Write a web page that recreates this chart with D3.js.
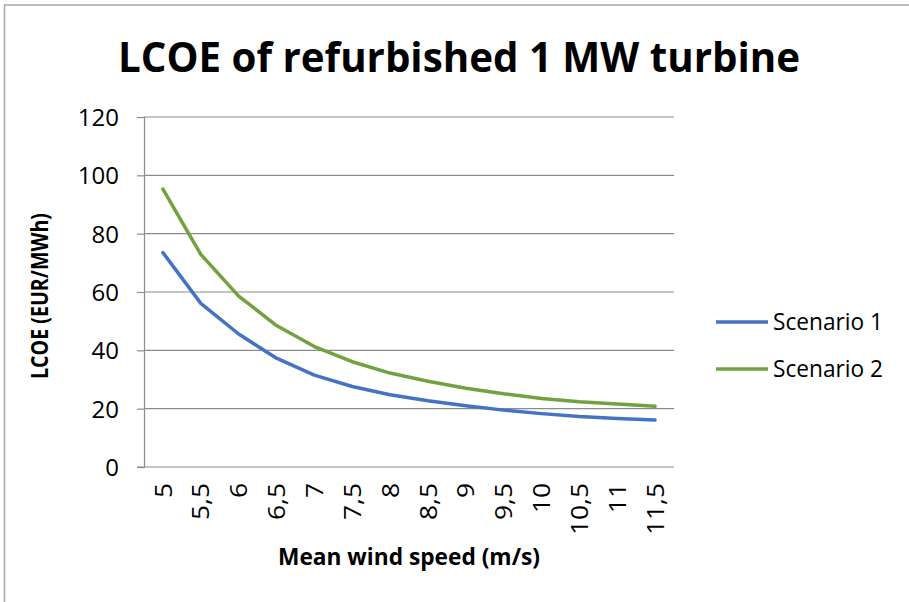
<!DOCTYPE html>
<html>
<head>
<meta charset="utf-8">
<script src="https://cdn.jsdelivr.net/npm/d3@7"></script>
<style>
  html, body { margin: 0; padding: 0; background: #fff; }
  svg { display: block; }
  text { font-family: "Open Sans", "Liberation Sans", sans-serif; fill: #000; }
</style>
</head>
<body>
<svg id="chart" width="909" height="602"></svg>
<script>
const categories = ["5","5,5","6","6,5","7","7,5","8","8,5","9","9,5","10","10,5","11","11,5"];
const scenario1 = [73.5, 56.1, 45.6, 37.3, 31.5, 27.6, 24.8, 22.7, 21.0, 19.5, 18.3, 17.3, 16.6, 16.1];
const scenario2 = [95.3, 72.9, 58.6, 48.5, 41.3, 36.1, 32.2, 29.4, 27.0, 25.1, 23.5, 22.4, 21.6, 20.8];
const yTicks = [0, 20, 40, 60, 80, 100, 120];
const seriesNames = ["Scenario 1", "Scenario 2"];
const seriesColors = ["#4472c4", "#70a33f"];
const titleText = "LCOE of refurbished 1 MW turbine";
const xTitle = "Mean wind speed (m/s)";
const yTitle = "LCOE (EUR/MWh)";

const svg = d3.select("#chart");
const W = 909, H = 602;
const plot = {left: 144, right: 674, top: 117, bottom: 467};

// outer border
svg.append("rect").attr("x", 4.5).attr("y", 5).attr("width", W + 10).attr("height", H + 10)
  .attr("fill", "none").attr("stroke", "#a6a6a6").attr("stroke-width", 1.5);

const x = d3.scaleBand().domain(categories).range([plot.left, plot.right]).padding(0);
const y = d3.scaleLinear().domain([0, 120]).range([plot.bottom, plot.top]);

// gridlines
svg.append("g").selectAll("line").data(yTicks.filter(d => d > 0)).join("line")
  .attr("x1", plot.left).attr("x2", plot.right)
  .attr("y1", d => y(d)).attr("y2", d => y(d))
  .attr("stroke", "#8c8c8c").attr("stroke-width", 1.2);

// y axis
const yAxis = d3.axisLeft(y).tickValues(yTicks).tickSize(7).tickPadding(18).tickFormat(d3.format("d"));
const gy = svg.append("g").attr("transform", `translate(${plot.left},0)`).call(yAxis);
gy.select(".domain").attr("stroke", "#8c8c8c").attr("stroke-width", 1.2);
gy.selectAll(".tick line").attr("stroke", "#8c8c8c").attr("stroke-width", 1.2);
gy.selectAll(".tick text").attr("font-size", 24).attr("font-family", "Open Sans").attr("fill", "#000")
  .attr("dy", "0.36em");

// x axis
const xAxis = d3.axisBottom(x).tickSize(0).tickPadding(0);
const gx = svg.append("g").attr("transform", `translate(0,${plot.bottom})`).call(xAxis);
gx.select(".domain").remove();
gx.append("line").attr("x1", plot.left - 7).attr("x2", plot.right).attr("y1", 0).attr("y2", 0)
  .attr("stroke", "#8c8c8c").attr("stroke-width", 1.2);
gx.selectAll(".tick text")
  .attr("font-size", 24).attr("font-family", "Open Sans").attr("fill", "#000")
  .attr("text-anchor", "end")
  .attr("transform", "rotate(-90)")
  .attr("x", -16).attr("y", 0).attr("dy", "0.36em")
  .each(function() {
    const len = this.getComputedTextLength();
    d3.select(this).attr("textLength", len * 1.1).attr("lengthAdjust", "spacingAndGlyphs");
  });

// lines
const line = d3.line().x((d, i) => x(categories[i]) + x.bandwidth() / 2).y(d => y(d));
[scenario1, scenario2].forEach((vals, k) => {
  svg.append("path").datum(vals).attr("d", line)
    .attr("fill", "none").attr("stroke", seriesColors[k]).attr("stroke-width", 3.5)
    .attr("stroke-linejoin", "round").attr("stroke-linecap", "round");
});

// title
svg.append("text").attr("x", 459).attr("y", 72).attr("text-anchor", "middle")
  .attr("font-size", 42).attr("font-weight", "bold")
  .attr("textLength", 682).attr("lengthAdjust", "spacingAndGlyphs")
  .text(titleText);

// axis titles
svg.append("text").attr("x", 409).attr("y", 565).attr("text-anchor", "middle")
  .attr("font-size", 23).attr("font-weight", "bold").attr("textLength", 262).attr("lengthAdjust", "spacingAndGlyphs")
  .text(xTitle);
svg.append("text").attr("transform", "translate(48,296) rotate(-90)").attr("text-anchor", "middle")
  .attr("font-size", 23).attr("font-weight", "bold").attr("textLength", 166).attr("lengthAdjust", "spacingAndGlyphs")
  .text(yTitle);

// legend
const lg = svg.append("g");
seriesNames.forEach((name, k) => {
  const ly = 322 + k * 47;
  lg.append("line").attr("x1", 716).attr("x2", 768).attr("y1", ly).attr("y2", ly)
    .attr("stroke", seriesColors[k]).attr("stroke-width", 3.5);
  lg.append("text").attr("x", 773).attr("y", ly).attr("dy", "0.36em")
    .attr("font-size", 23).attr("textLength", 110).attr("lengthAdjust", "spacingAndGlyphs").text(name);
});
</script>
</body>
</html>
